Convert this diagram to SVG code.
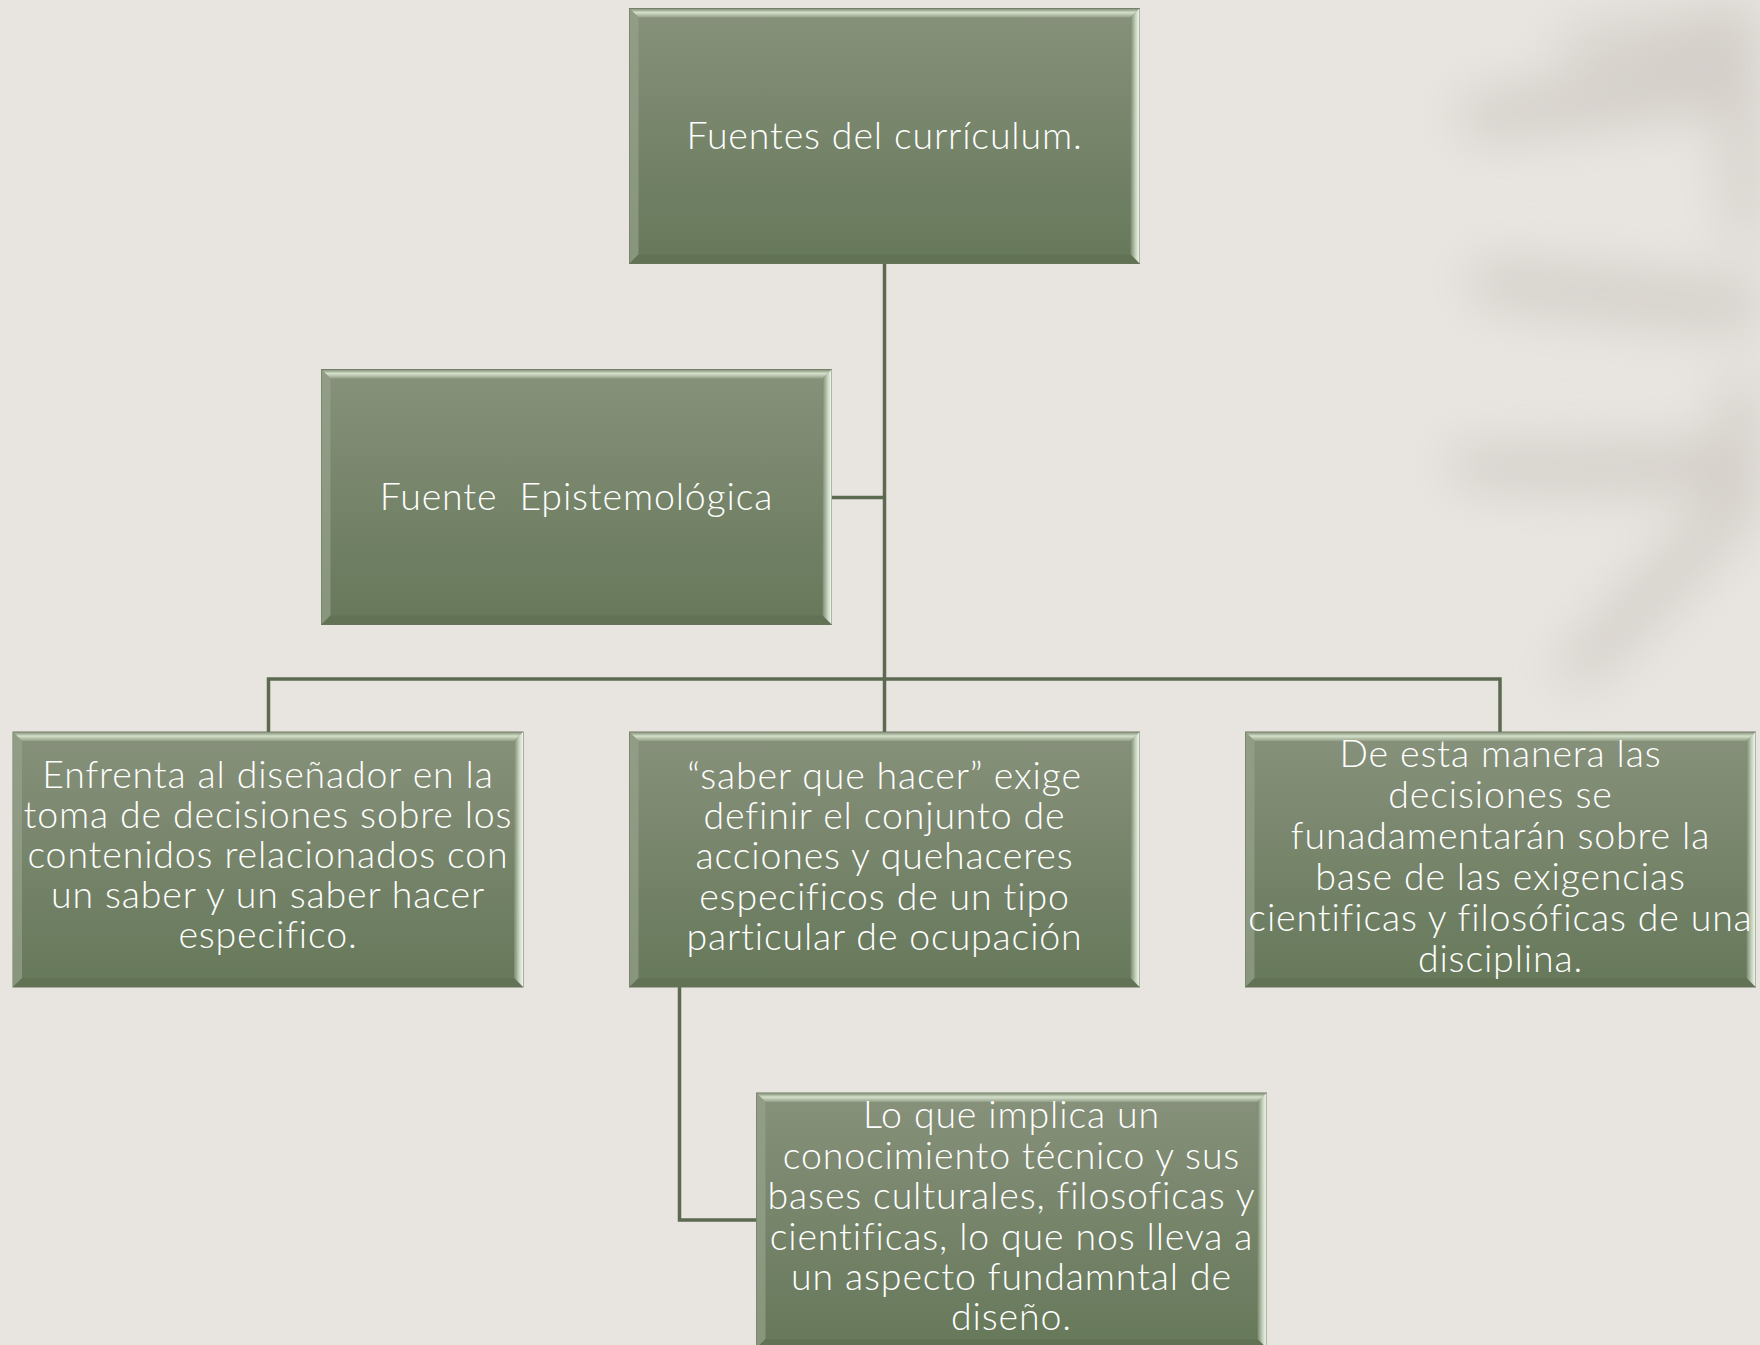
<svg xmlns="http://www.w3.org/2000/svg" xmlns:xlink="http://www.w3.org/1999/xlink" width="1760" height="1345" viewBox="0 0 1760 1345">
<style>
.lbl{font-family:Lato,"Open Sans","Liberation Sans",sans-serif;font-weight:300;font-size:37.5px;letter-spacing:0.85px;fill:#ffffff;text-anchor:middle}
.con{fill:none;stroke:#5b6a50;stroke-width:3.5}
</style>
<defs>
<linearGradient id="fillG" x1="0" y1="0" x2="0" y2="1">
<stop offset="0" stop-color="#87917b"/>
<stop offset="1" stop-color="#66785a"/>
</linearGradient>
<linearGradient id="topG" x1="0" y1="0" x2="0" y2="1">
<stop offset="0" stop-color="#7f8a72"/>
<stop offset="0.45" stop-color="#d4e0cb"/>
<stop offset="1" stop-color="#93a086"/>
</linearGradient>
<linearGradient id="rightG" x1="0" y1="0" x2="1" y2="0">
<stop offset="0" stop-color="#7d8a70"/>
<stop offset="0.6" stop-color="#c9d6c2"/>
<stop offset="1" stop-color="#f2f7ee"/>
</linearGradient>
<filter id="blur" filterUnits="userSpaceOnUse" x="1150" y="-300" width="900" height="1300" color-interpolation-filters="sRGB">
<feGaussianBlur in="SourceGraphic" stdDeviation="26" result="b"/>
<feFlood flood-color="#e8e5e0" result="bg"/>
<feComposite in="b" in2="bg" operator="over"/>
</filter>
<g id="box">
<rect x="0" y="0" width="510" height="255" fill="url(#fillG)" stroke="#6b775f" stroke-width="1"/>
<polygon points="0,0 510,0 501,9 9,9" fill="url(#topG)"/>
<polygon points="510,0 510,255 501,246 501,9" fill="url(#rightG)"/>
<polygon points="0,0 9,9 9,246 0,255" fill="#97a38b" opacity="0.7"/>
<polygon points="0,255 9,246 501,246 510,255" fill="#5f7052" opacity="0.6"/>
</g>
</defs>
<rect width="1760" height="1345" fill="#e8e5e0"/>
<g id="leaf-shadow" filter="url(#blur)" fill="#d3cec8">
<path d="M1455 100 C1540 80 1650 62 1760 40 L1760 105 C1650 122 1550 135 1465 140 Z"/>
<path d="M1560 30 C1640 20 1700 10 1760 0 L1760 40 C1700 50 1620 58 1560 60 Z"/>
<path d="M1465 262 C1560 262 1660 276 1760 282 L1760 332 C1660 328 1560 314 1478 304 Z"/>
<path d="M1445 448 C1550 442 1660 448 1760 432 L1760 488 C1660 496 1550 492 1458 486 Z"/>
<path d="M1550 670 C1615 600 1680 535 1760 445 L1760 510 C1700 578 1645 636 1582 690 Z"/>
<path d="M1720 110 L1760 95 L1760 250 L1730 240 Z"/>
<path d="M1720 385 L1760 375 L1760 515 L1728 508 Z"/>
</g>
<g id="connectors">
<path class="con" d="M884.5 263 V732"/>
<path class="con" d="M831.5 497.5 H884.5"/>
<path class="con" d="M268.5 732 V679 H1500 V732"/>
<path class="con" d="M679.5 987 V1220 H756.5"/>
</g>
<g id="n-fuentes" transform="translate(629.5,8.5)">
<use xlink:href="#box"/>
<text class="lbl" x="255" y="140">Fuentes del currículum.</text>
</g>
<g id="n-epist" transform="translate(321.5,369.5)">
<use xlink:href="#box"/>
<text class="lbl" x="255" y="140" xml:space="preserve">Fuente  Epistemológica</text>
</g>
<g id="n-enfrenta" transform="translate(13,732)">
<use xlink:href="#box"/>
<text class="lbl" x="255" y="56">Enfrenta al diseñador en la</text>
<text class="lbl" x="255" y="96">toma de decisiones sobre los</text>
<text class="lbl" x="255" y="136">contenidos relacionados con</text>
<text class="lbl" x="255" y="176">un saber y un saber hacer</text>
<text class="lbl" x="255" y="216">especifico.</text>
</g>
<g id="n-saber" transform="translate(629.5,732)">
<use xlink:href="#box"/>
<text class="lbl" x="255" y="57">“saber que hacer” exige</text>
<text class="lbl" x="255" y="97">definir el conjunto de</text>
<text class="lbl" x="255" y="137">acciones y quehaceres</text>
<text class="lbl" x="255" y="177.5">especificos de un tipo</text>
<text class="lbl" x="255" y="218">particular de ocupación</text>
</g>
<g id="n-decisiones" transform="translate(1245.5,732)">
<use xlink:href="#box"/>
<text class="lbl" x="255" y="35">De esta manera las</text>
<text class="lbl" x="255" y="76">decisiones se</text>
<text class="lbl" x="255" y="117">funadamentarán sobre la</text>
<text class="lbl" x="255" y="158">base de las exigencias</text>
<text class="lbl" x="255" y="199">cientificas y filosóficas de una</text>
<text class="lbl" x="255" y="240">disciplina.</text>
</g>
<g id="n-implica" transform="translate(756.5,1093)">
<use xlink:href="#box"/>
<text class="lbl" x="255" y="35">Lo que implica un</text>
<text class="lbl" x="255" y="75.5">conocimiento técnico y sus</text>
<text class="lbl" x="255" y="116">bases culturales, filosoficas y</text>
<text class="lbl" x="255" y="156.5">cientificas, lo que nos lleva a</text>
<text class="lbl" x="255" y="197">un aspecto fundamntal de</text>
<text class="lbl" x="255" y="237">diseño.</text>
</g>
</svg>
